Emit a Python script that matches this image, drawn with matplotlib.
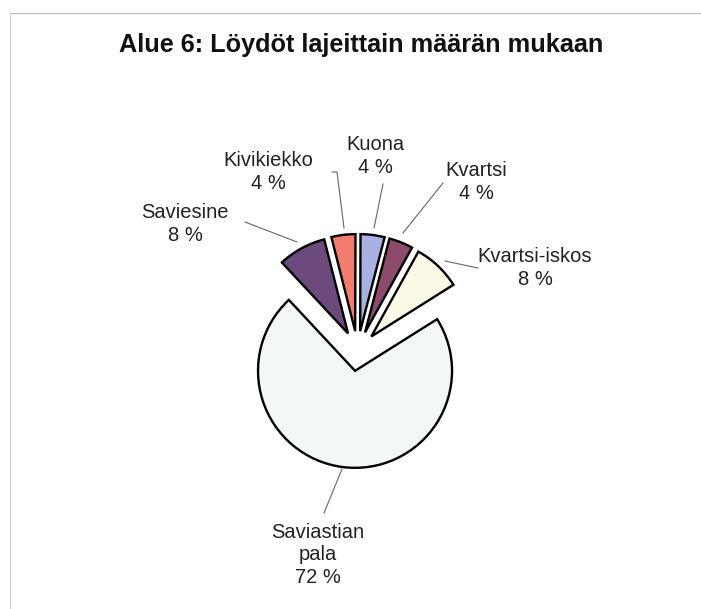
import matplotlib.pyplot as plt
from matplotlib.lines import Line2D

# data
labels = ["Saviastian\npala", "Kvartsi-iskos", "Kvartsi", "Kuona", "Kivikiekko", "Saviesine"]
shares = [72, 8, 4, 4, 4, 8]
colors = ["#F3F7F8", "#FCFAE6", "#8C4A6C", "#A9B0E2", "#F27D6E", "#6C4A7E"]

# label text positions and leader lines (pixels, y from top)
label_pos = [(318, 555), (535, 268), (476, 182), (375, 156), (268, 172), (185, 224)]
leaders = [
    [(342, 469), (324, 513)],
    [(478, 268), (445, 261)],
    [(443, 183), (403, 233)],
    [(383, 184), (374, 228)],
    [(332, 172), (337, 172), (344, 228)],
    [(245, 222), (297, 242)],
]

W, H = 701, 609
plt.rcParams['font.family'] = ['Liberation Sans', 'DejaVu Sans']

fig = plt.figure(figsize=(W / 100, H / 100), dpi=100)
ax = fig.add_axes([0, 0, 1, 1])

ax.pie(shares, colors=colors, startangle=133, counterclock=True,
       center=(357.6, H - 351), radius=97, explode=[20] * len(shares),
       wedgeprops=dict(edgecolor="black", linewidth=1.7))

ax.set_xlim(0, W)
ax.set_ylim(0, H)
ax.set_aspect("equal")
ax.axis("off")

for lab, val, (x, y) in zip(labels, shares, label_pos):
    ax.text(x, H - y, f"{lab}\n{val} %", ha="center", va="center",
            fontsize=14.5, color="#222222", linespacing=1.25)

for pts in leaders:
    xs = [p[0] for p in pts]
    ys = [H - p[1] for p in pts]
    ax.plot(xs, ys, color="#666666", lw=0.8)

ax.text(361, H - 45, "Alue 6: Löydöt lajeittain määrän mukaan", ha="center",
        va="center", fontsize=18.2, fontweight="bold", color="#111111")

# faint chart-area border from the scan
fig.add_artist(Line2D([10 / W, 1], [1 - 13 / H, 1 - 13 / H], transform=fig.transFigure,
                      color="#BBBBBB", lw=0.8))
fig.add_artist(Line2D([10 / W, 10 / W], [0, 1 - 13 / H], transform=fig.transFigure,
                      color="#CCCCCC", lw=0.8))

fig.savefig("out.png", dpi=100, facecolor="white")
